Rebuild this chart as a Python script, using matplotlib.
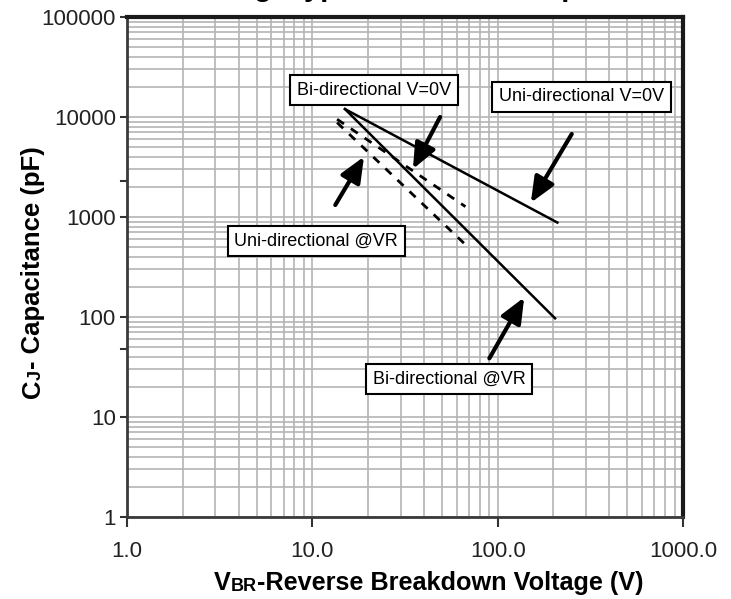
#!/usr/bin/env python3
# junction capacitance vs breakdown voltage, log-log with boxed callouts
import numpy as np
import matplotlib
matplotlib.use('Agg')
import matplotlib.pyplot as plt
from matplotlib.ticker import FixedLocator, NullFormatter

plt.rcParams['font.family'] = ['Liberation Sans', 'DejaVu Sans']

# curves (V, pF)
uni_0v_v = [15.0, 210.0]
uni_0v_c = [12000.0, 880.0]
bi_vr_v = [15.0, 204.0]
bi_vr_c = [12000.0, 97.0]
bi_0v_v = [13.6, 67.0]
bi_0v_c = [9500.0, 1270.0]
uni_vr_v = [13.6, 70.0]
uni_vr_c = [8800.0, 490.0]

x_ticks = [1, 10, 100, 1000]
x_labels = ['1.0', '10.0', '100.0', '1000.0']
y_ticks = [1, 10, 100, 1000, 10000, 100000]
y_labels = ['1', '10', '100', '1000', '10000', '100000']
y_extra_ticks = [2300, 48]   # stray tick marks on the left axis

callouts = ['Bi-directional V=0V', 'Uni-directional V=0V',
            'Uni-directional @VR', 'Bi-directional @VR']


def minor_decades(lo, hi):
    vals = []
    for d in range(lo, hi):
        for k in range(2, 10):
            vals.append(k * 10.0 ** d)
    return vals


def label_pieces(ax, pieces, xy, rotation=0):
    "draw (text, size) pieces one after another, first one anchored at xy (figure fraction)"
    first, size = pieces[0]
    if rotation:
        t = ax.figure.text(xy[0], xy[1], first, fontsize=size, fontweight='bold',
                           rotation=90, ha='right', va='bottom')
    else:
        t = ax.figure.text(xy[0], xy[1], first, fontsize=size, fontweight='bold',
                           ha='left', va='bottom')
    for s, size in pieces[1:]:
        if rotation:
            t = ax.annotate(s, xy=(1, 1), xycoords=t, fontsize=size, fontweight='bold',
                            rotation=90, ha='right', va='bottom',
                            annotation_clip=False)
        else:
            t = ax.annotate(s, xy=(1, 0), xycoords=t, fontsize=size, fontweight='bold',
                            ha='left', va='bottom', annotation_clip=False)
    return t


fig = plt.figure(figsize=(7.31, 5.99), dpi=100)
ax = fig.add_axes([127 / 731, 1 - 517 / 599, 556 / 731, 500 / 599])
ax.set_xscale('log')
ax.set_yscale('log')
ax.set_xlim(1, 1000)
ax.set_ylim(1, 100000)

ax.xaxis.set_major_locator(FixedLocator(x_ticks))
ax.set_xticklabels(x_labels)
ax.yaxis.set_major_locator(FixedLocator(y_ticks))
ax.set_yticklabels(y_labels)
ax.xaxis.set_minor_locator(FixedLocator(minor_decades(0, 3)))
ax.yaxis.set_minor_locator(FixedLocator(minor_decades(0, 5)))
ax.xaxis.set_minor_formatter(NullFormatter())
ax.yaxis.set_minor_formatter(NullFormatter())

ax.grid(which='both', color='#b4b4b4', lw=1.2)
ax.set_axisbelow(True)
ax.tick_params(which='minor', length=0)
ax.tick_params(axis='x', which='major', length=7, width=1.5, color='#333333',
               labelsize=16, labelcolor='#222222', pad=10)
ax.tick_params(axis='y', which='major', length=5, width=1.5, color='#333333',
               labelsize=16, labelcolor='#222222', pad=3)

for side in ['left', 'bottom']:
    ax.spines[side].set_linewidth(2)
    ax.spines[side].set_color('#3a3a3a')
for side in ['top', 'right']:
    ax.spines[side].set_linewidth(3)
    ax.spines[side].set_color('#1a1a1a')

# stray ticks
for yv in y_extra_ticks:
    ax.plot([-0.01, 0], [yv, yv], transform=ax.get_yaxis_transform(),
            color='#333333', lw=1.5, clip_on=False)

# curves
ax.plot(uni_0v_v, uni_0v_c, color='black', lw=1.8)
ax.plot(bi_vr_v, bi_vr_c, color='black', lw=1.8)
ax.plot(bi_0v_v, bi_0v_c, color='black', lw=2, dashes=(3, 3))
ax.plot(uni_vr_v, uni_vr_c, color='black', lw=2, dashes=(3, 3))

# callout boxes
box = dict(boxstyle='square,pad=0.38', fc='white', ec='black', lw=1.5)
ax.text(21.5, 18600, callouts[0], fontsize=13, ha='center', va='center', bbox=box, zorder=5)
ax.text(284, 15850, callouts[1], fontsize=13, ha='center', va='center', bbox=box, zorder=5)
ax.text(10.5, 575, callouts[2], fontsize=13, ha='center', va='center', bbox=box, zorder=5)
ax.text(54.7, 24, callouts[3], fontsize=13, ha='center', va='center', bbox=box, zorder=5)

# arrows (tail -> tip)
arrow = dict(arrowstyle='-|>,head_length=0.7,head_width=0.3', mutation_scale=22,
             lw=3, color='black', shrinkA=0, shrinkB=0)
ax.annotate('', xy=(34.9, 3020), xytext=(48.9, 10000), arrowprops=arrow)
ax.annotate('', xy=(151, 1390), xytext=(251, 6760), arrowprops=arrow)
ax.annotate('', xy=(19.0, 4010), xytext=(13.3, 1318), arrowprops=arrow)
ax.annotate('', xy=(139, 157), xytext=(90.2, 38.6), arrowprops=arrow)

# axis labels with small-caps subscripts
label_pieces(ax, [('V', 18.2), ('BR', 13), ('-Reverse Breakdown Voltage (V)', 18.2)],
             (214 / 731, 1 - 595 / 599))
label_pieces(ax, [('C', 18.5), ('J', 13), ('- Capacitance (pF)', 18.5)],
             (45 / 731, 1 - 398 / 599), rotation=90)

# clipped title, only descenders show at the top edge
fig.text(228 / 731, 1 + 4 / 599, 'Fig. Typical Junction Capacitance',
         fontsize=21, fontweight='bold', ha='left', va='baseline')

fig.savefig('out.png', dpi=100)
